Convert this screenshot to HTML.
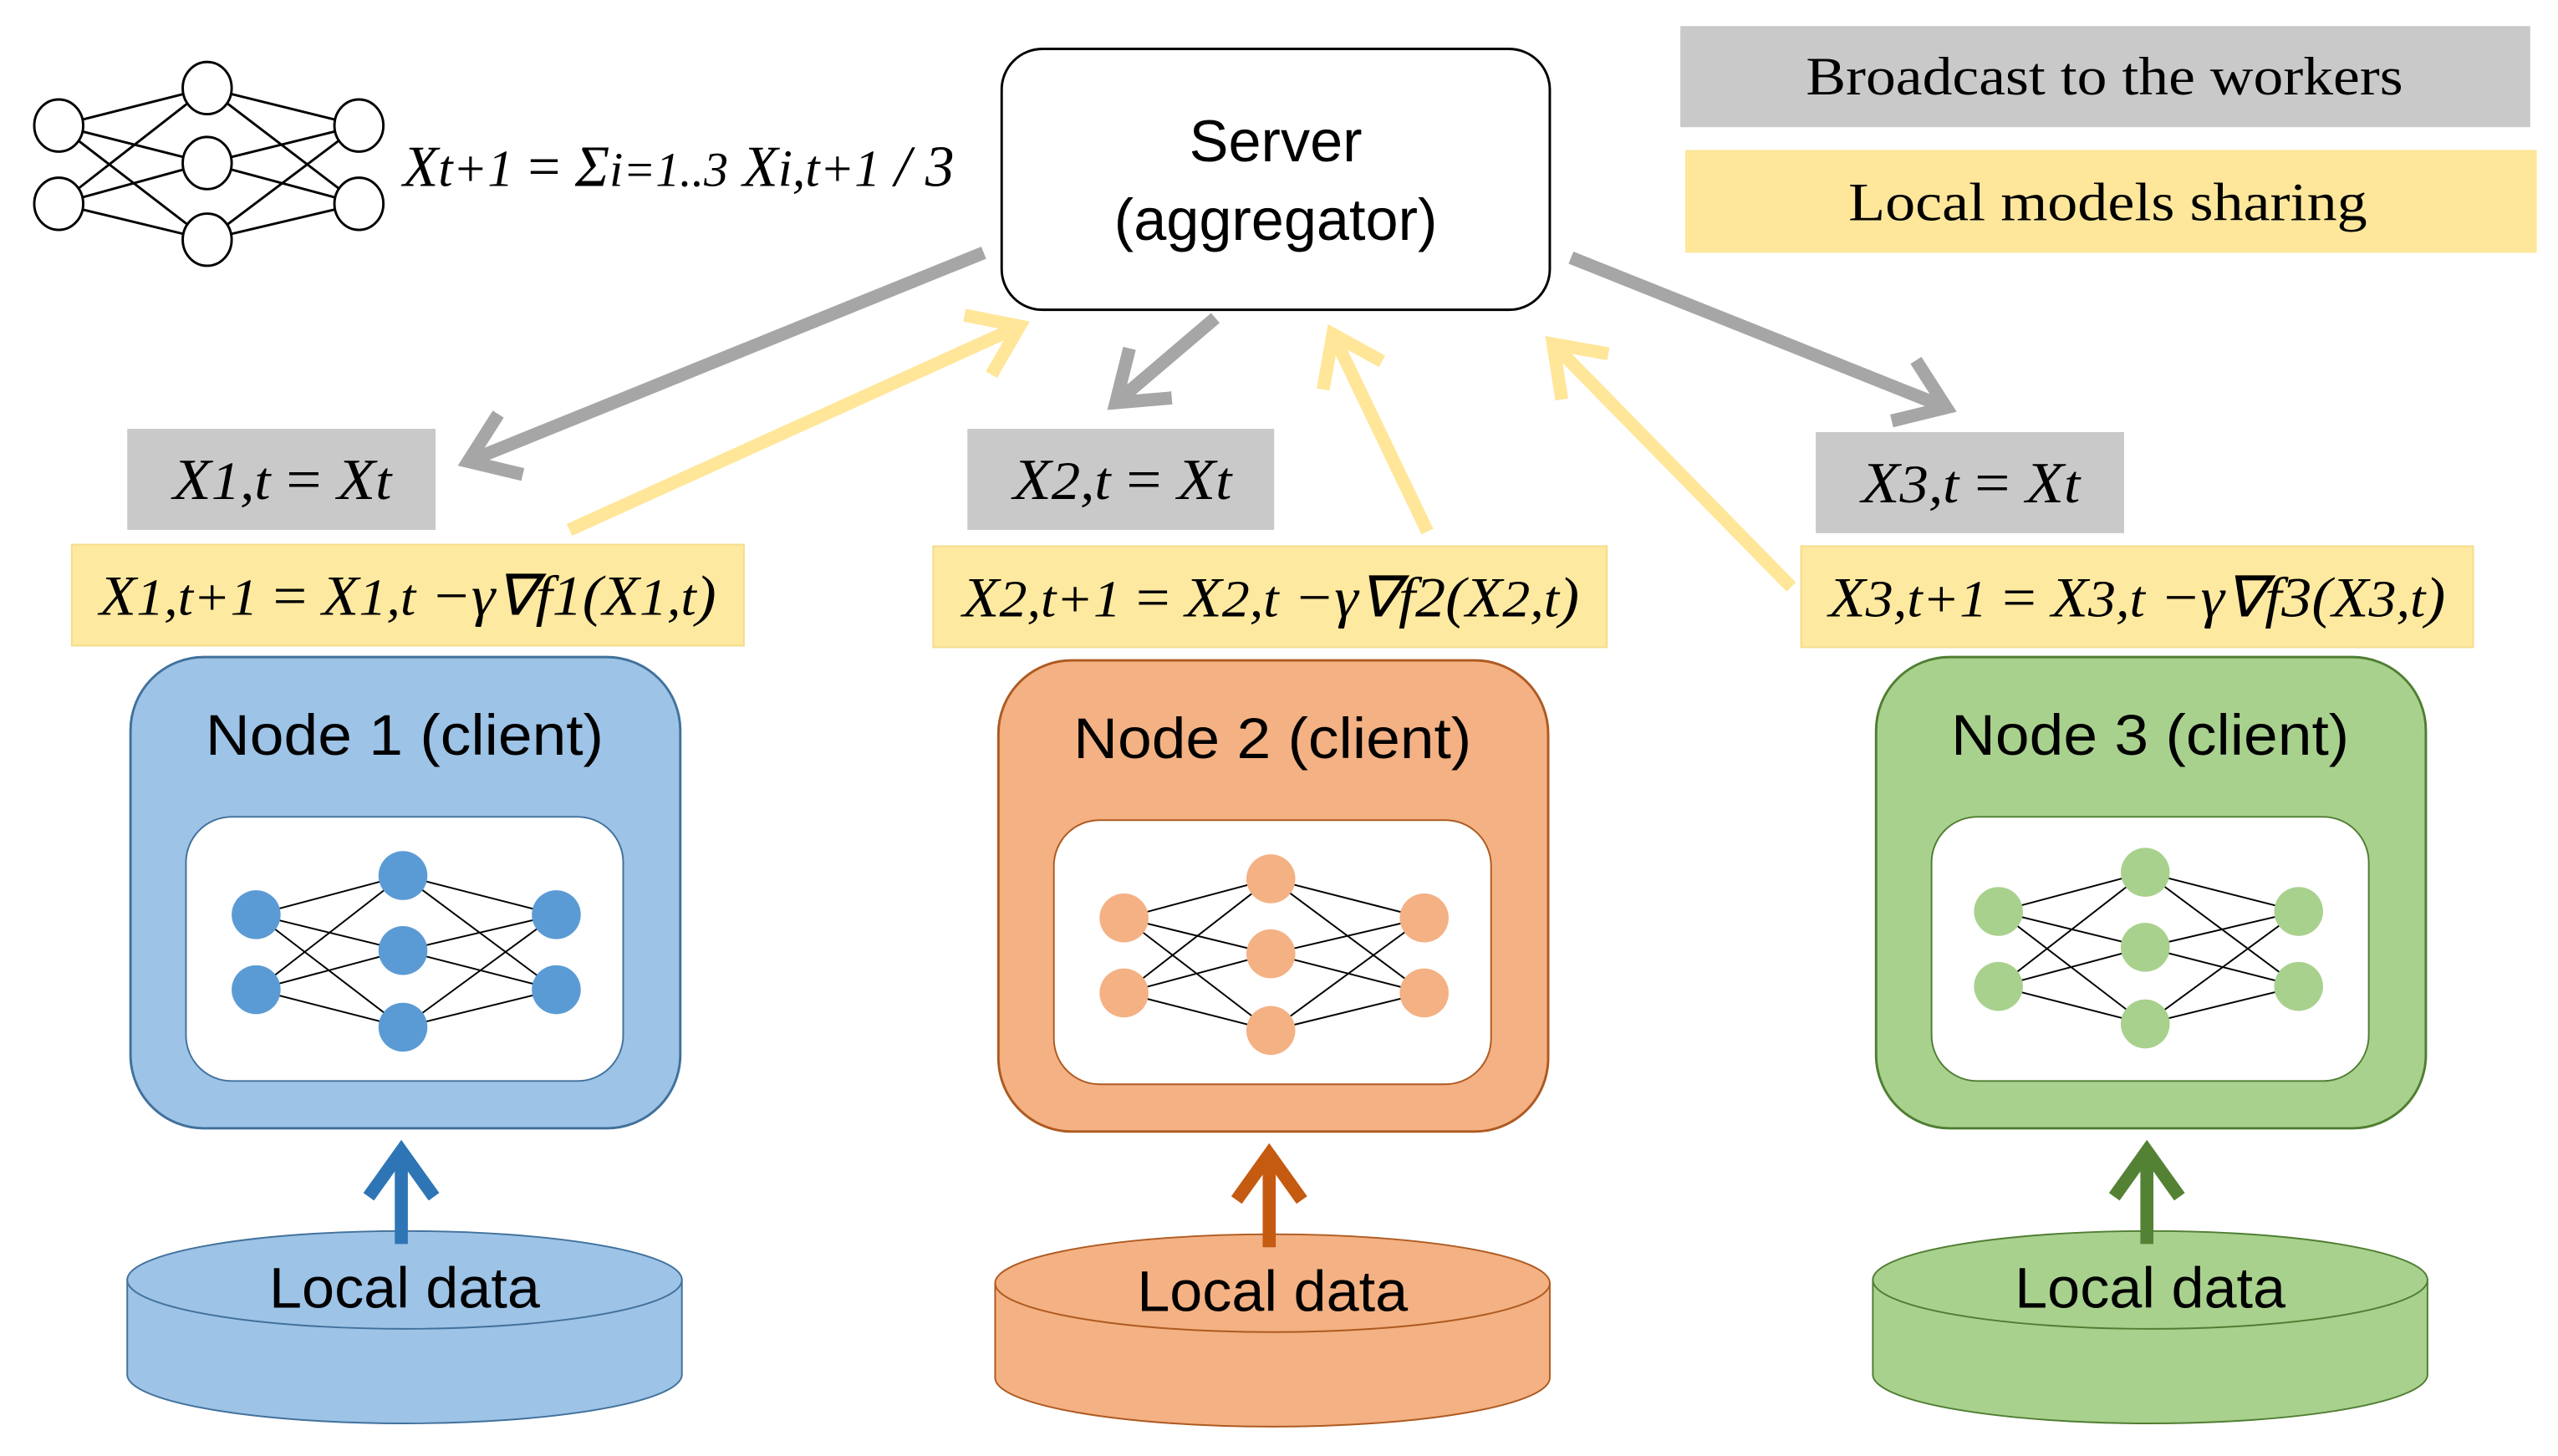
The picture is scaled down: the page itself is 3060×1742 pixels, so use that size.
<!DOCTYPE html>
<html><head><meta charset="utf-8"><style>
html,body{margin:0;padding:0;background:#fff}
svg{display:block}
.s{font-family:"Liberation Sans",sans-serif}
.m{font-family:"Liberation Serif",serif;font-style:italic}
.r{font-family:"Liberation Serif",serif}
</style></head><body>
<svg width="3060" height="1742" viewBox="0 0 1568 893" preserveAspectRatio="none" xmlns="http://www.w3.org/2000/svg">
<defs>
<marker id="ag" markerWidth="6" markerHeight="6" refX="4" refY="3" orient="auto" markerUnits="strokeWidth"><polyline points="0.5,0.5 4,3 0.5,5.5" fill="none" stroke="#a6a6a6" stroke-width="1"/></marker>
<marker id="ay" markerWidth="6" markerHeight="6" refX="4" refY="3" orient="auto" markerUnits="strokeWidth"><polyline points="0.5,0.5 4,3 0.5,5.5" fill="none" stroke="#ffe699" stroke-width="1"/></marker>
<marker id="ab" markerWidth="6" markerHeight="6" refX="4" refY="3" orient="auto" markerUnits="strokeWidth"><polyline points="0.5,0.5 4,3 0.5,5.5" fill="none" stroke="#2e75b6" stroke-width="1"/></marker>
<marker id="ao" markerWidth="6" markerHeight="6" refX="4" refY="3" orient="auto" markerUnits="strokeWidth"><polyline points="0.5,0.5 4,3 0.5,5.5" fill="none" stroke="#c55a11" stroke-width="1"/></marker>
<marker id="an" markerWidth="6" markerHeight="6" refX="4" refY="3" orient="auto" markerUnits="strokeWidth"><polyline points="0.5,0.5 4,3 0.5,5.5" fill="none" stroke="#548235" stroke-width="1"/></marker>
</defs>

<g stroke="#000" stroke-width="1.5" fill="none">
<path d="M36,77L127,54M36,77L127,100M36,77L127,147M36,125L127,54M36,125L127,100M36,125L127,147M127,54L220,77M127,54L220,125M127,100L220,77M127,100L220,125M127,147L220,77M127,147L220,125"/>
</g>
<g stroke="#000" stroke-width="1.5" fill="#fff">
<ellipse cx="36" cy="77" rx="15" ry="16"/><ellipse cx="36" cy="125" rx="15" ry="16"/>
<ellipse cx="127" cy="54" rx="15" ry="16"/><ellipse cx="127" cy="100" rx="15" ry="16"/><ellipse cx="127" cy="147" rx="15" ry="16"/>
<ellipse cx="220" cy="77" rx="15" ry="16"/><ellipse cx="220" cy="125" rx="15" ry="16"/>
</g>
<text x="247" y="114" class="m" font-size="36" textLength="338" lengthAdjust="spacingAndGlyphs">X<tspan font-size="32">t+1</tspan> <tspan font-style="normal">=</tspan> Σ<tspan font-size="30">i=1..3</tspan> X<tspan font-size="32">i,t+1</tspan> / 3</text>

<rect x="614" y="30" width="336" height="160" rx="25" fill="#fff" stroke="#000" stroke-width="1.5"/>
<text x="782" y="99" class="s" font-size="36" text-anchor="middle">Server</text>
<text x="782" y="147" class="s" font-size="36" text-anchor="middle">(aggregator)</text>

<rect x="1030" y="16" width="521" height="62" fill="#c9c9c9"/>
<text x="1290" y="58" class="r" font-size="33" text-anchor="middle" textLength="366" lengthAdjust="spacingAndGlyphs">Broadcast to the workers</text>
<rect x="1033" y="92" width="522" height="63" fill="#fee79b"/>
<text x="1292" y="135" class="r" font-size="33" text-anchor="middle" textLength="318" lengthAdjust="spacingAndGlyphs">Local models sharing</text>

<g stroke-width="8" fill="none" stroke-linecap="butt">
<line x1="603" y1="155" x2="287" y2="283" stroke="#a6a6a6" marker-end="url(#ag)"/>
<line x1="745" y1="195" x2="684" y2="247" stroke="#a6a6a6" marker-end="url(#ag)"/>
<line x1="963" y1="158" x2="1193" y2="250" stroke="#a6a6a6" marker-end="url(#ag)"/>
<line x1="349" y1="325" x2="625" y2="200" stroke="#ffe699" marker-end="url(#ay)"/>
<line x1="875" y1="326" x2="817" y2="205" stroke="#ffe699" marker-end="url(#ay)"/>
<line x1="1098" y1="360" x2="952" y2="211" stroke="#ffe699" marker-end="url(#ay)"/>
</g>

<rect x="78" y="263" width="189" height="62" fill="#c9c9c9"/>
<text x="173" y="306" class="m" font-size="36" text-anchor="middle" textLength="134" lengthAdjust="spacingAndGlyphs">X<tspan font-size="33">1,t</tspan> <tspan font-style="normal">=</tspan> X<tspan font-size="33">t</tspan></text>
<rect x="593" y="263" width="188" height="62" fill="#c9c9c9"/>
<text x="688" y="306" class="m" font-size="36" text-anchor="middle" textLength="134" lengthAdjust="spacingAndGlyphs">X<tspan font-size="33">2,t</tspan> <tspan font-style="normal">=</tspan> X<tspan font-size="33">t</tspan></text>
<rect x="1113" y="265" width="189" height="62" fill="#c9c9c9"/>
<text x="1208" y="308" class="m" font-size="36" text-anchor="middle" textLength="134" lengthAdjust="spacingAndGlyphs">X<tspan font-size="33">3,t</tspan> <tspan font-style="normal">=</tspan> X<tspan font-size="33">t</tspan></text>

<rect x="44" y="334" width="412" height="62" fill="#fee9a0" stroke="#f5dc8a"/>
<text x="250" y="377" class="m" font-size="35" text-anchor="middle" textLength="378" lengthAdjust="spacingAndGlyphs">X<tspan font-size="32">1,t+1</tspan> <tspan font-style="normal">=</tspan> X<tspan font-size="32">1,t</tspan> −γ∇f1(X<tspan font-size="32">1,t</tspan>)</text>
<rect x="572" y="335" width="413" height="62" fill="#fee9a0" stroke="#f5dc8a"/>
<text x="779" y="378" class="m" font-size="35" text-anchor="middle" textLength="378" lengthAdjust="spacingAndGlyphs">X<tspan font-size="32">2,t+1</tspan> <tspan font-style="normal">=</tspan> X<tspan font-size="32">2,t</tspan> −γ∇f2(X<tspan font-size="32">2,t</tspan>)</text>
<rect x="1104" y="335" width="412" height="62" fill="#fee9a0" stroke="#f5dc8a"/>
<text x="1310" y="378" class="m" font-size="35" text-anchor="middle" textLength="378" lengthAdjust="spacingAndGlyphs">X<tspan font-size="32">3,t+1</tspan> <tspan font-style="normal">=</tspan> X<tspan font-size="32">3,t</tspan> −γ∇f3(X<tspan font-size="32">3,t</tspan>)</text>

<g>
<rect x="80" y="403" width="337" height="289" rx="45" fill="#9dc3e6" stroke="#41719c" stroke-width="1.5"/>
<text x="248" y="463" class="s" font-size="35" text-anchor="middle" textLength="244" lengthAdjust="spacingAndGlyphs">Node 1 (client)</text>
<rect x="114" y="501" width="268" height="162" rx="28" fill="#fff" stroke="#41719c" stroke-width="1"/>
<path d="M157,561L247,537M157,561L247,583M157,561L247,630M157,607L247,537M157,607L247,583M157,607L247,630M247,537L341,561M247,537L341,607M247,583L341,561M247,583L341,607M247,630L341,561M247,630L341,607" stroke="#000" stroke-width="1" fill="none"/>
<g fill="#5b9bd5"><circle cx="157" cy="561" r="15"/><circle cx="157" cy="607" r="15"/><circle cx="247" cy="537" r="15"/><circle cx="247" cy="583" r="15"/><circle cx="247" cy="630" r="15"/><circle cx="341" cy="561" r="15"/><circle cx="341" cy="607" r="15"/></g>
<path d="M78,785V843A170,30 0 0 0 418,843V785Z" fill="#9dc3e6" stroke="#41719c" stroke-width="1"/>
<ellipse cx="248" cy="785" rx="170" ry="30" fill="#9dc3e6" stroke="#41719c" stroke-width="1"/>
<line x1="246" y1="763" x2="246" y2="706" stroke="#2e75b6" stroke-width="8" marker-end="url(#ab)"/>
<text x="248" y="802" class="s" font-size="35" text-anchor="middle" textLength="166" lengthAdjust="spacingAndGlyphs">Local data</text>
</g>

<g transform="translate(532,2)">
<rect x="80" y="403" width="337" height="289" rx="45" fill="#f4b183" stroke="#ae5a21" stroke-width="1.5"/>
<text x="248" y="463" class="s" font-size="35" text-anchor="middle" textLength="244" lengthAdjust="spacingAndGlyphs">Node 2 (client)</text>
<rect x="114" y="501" width="268" height="162" rx="28" fill="#fff" stroke="#ae5a21" stroke-width="1"/>
<path d="M157,561L247,537M157,561L247,583M157,561L247,630M157,607L247,537M157,607L247,583M157,607L247,630M247,537L341,561M247,537L341,607M247,583L341,561M247,583L341,607M247,630L341,561M247,630L341,607" stroke="#000" stroke-width="1" fill="none"/>
<g fill="#f4b183"><circle cx="157" cy="561" r="15"/><circle cx="157" cy="607" r="15"/><circle cx="247" cy="537" r="15"/><circle cx="247" cy="583" r="15"/><circle cx="247" cy="630" r="15"/><circle cx="341" cy="561" r="15"/><circle cx="341" cy="607" r="15"/></g>
<path d="M78,785V843A170,30 0 0 0 418,843V785Z" fill="#f4b183" stroke="#ae5a21" stroke-width="1"/>
<ellipse cx="248" cy="785" rx="170" ry="30" fill="#f4b183" stroke="#ae5a21" stroke-width="1"/>
<line x1="246" y1="763" x2="246" y2="706" stroke="#c55a11" stroke-width="8" marker-end="url(#ao)"/>
<text x="248" y="802" class="s" font-size="35" text-anchor="middle" textLength="166" lengthAdjust="spacingAndGlyphs">Local data</text>
</g>

<g transform="translate(1070,0)">
<rect x="80" y="403" width="337" height="289" rx="45" fill="#a9d18e" stroke="#507e32" stroke-width="1.5"/>
<text x="248" y="463" class="s" font-size="35" text-anchor="middle" textLength="244" lengthAdjust="spacingAndGlyphs">Node 3 (client)</text>
<rect x="114" y="501" width="268" height="162" rx="28" fill="#fff" stroke="#507e32" stroke-width="1"/>
<path d="M157,561L247,537M157,561L247,583M157,561L247,630M157,607L247,537M157,607L247,583M157,607L247,630M247,537L341,561M247,537L341,607M247,583L341,561M247,583L341,607M247,630L341,561M247,630L341,607" stroke="#000" stroke-width="1" fill="none" transform="translate(-2,-2)"/>
<g fill="#a9d18e" transform="translate(-2,-2)"><circle cx="157" cy="561" r="15"/><circle cx="157" cy="607" r="15"/><circle cx="247" cy="537" r="15"/><circle cx="247" cy="583" r="15"/><circle cx="247" cy="630" r="15"/><circle cx="341" cy="561" r="15"/><circle cx="341" cy="607" r="15"/></g>
<path d="M78,785V843A170,30 0 0 0 418,843V785Z" fill="#a9d18e" stroke="#507e32" stroke-width="1"/>
<ellipse cx="248" cy="785" rx="170" ry="30" fill="#a9d18e" stroke="#507e32" stroke-width="1"/>
<line x1="246" y1="763" x2="246" y2="706" stroke="#548235" stroke-width="8" marker-end="url(#an)"/>
<text x="248" y="802" class="s" font-size="35" text-anchor="middle" textLength="166" lengthAdjust="spacingAndGlyphs">Local data</text>
</g>
</svg>
</body></html>
